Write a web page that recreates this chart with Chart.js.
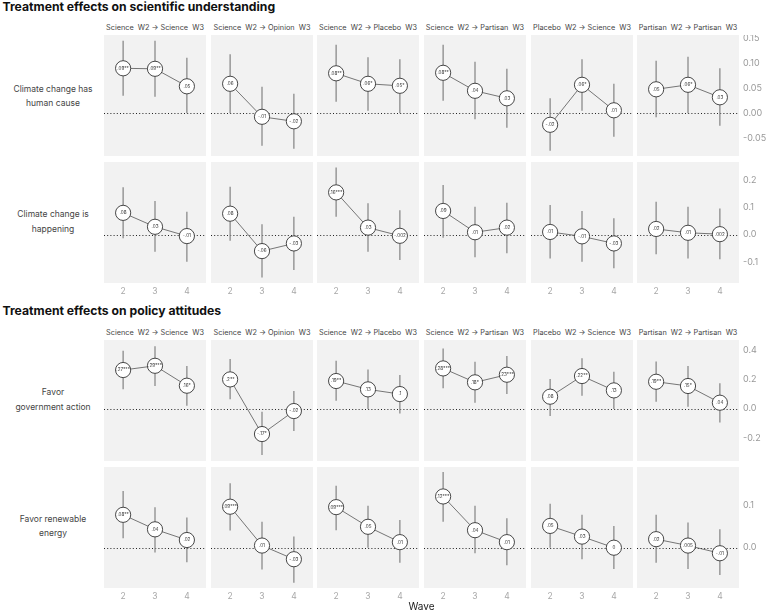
<!DOCTYPE html>
<html>
<head>
<meta charset="utf-8">
<script src="https://cdn.jsdelivr.net/npm/chart.js@4/dist/chart.umd.min.js"></script>
<style>
  html, body { margin: 0; padding: 0; background: #fff; }
  body { width: 766px; height: 612px; position: relative; overflow: hidden; font-family: Inter, "DejaVu Sans", sans-serif; }
  canvas { position: absolute; }
  .t { position: absolute; white-space: pre; line-height: 1; }
</style>
</head>
<body>
<script>
// ---------- data ----------
const sectionTitles = ["Treatment effects on scientific understanding", "Treatment effects on policy attitudes"];
const facetTitles = ["Science  W2 \u2192 Science  W3", "Science  W2 \u2192 Opinion  W3", "Science  W2 \u2192 Placebo  W3",
                     "Science  W2 \u2192 Partisan  W3", "Placebo  W2 \u2192 Science  W3", "Partisan  W2 \u2192 Partisan  W3"];
const rowLabels = [["Climate change has", "human cause"], ["Climate change is", "happening"],
                   ["Favor", "government action"], ["Favor renewable", "energy"]];
const waves = [2, 3, 4];
const waveTitle = "Wave";

const yTickValues = [[-0.05, 0, 0.05, 0.10, 0.15], [-0.1, 0, 0.1, 0.2], [-0.2, 0, 0.2, 0.4], [0, 0.1]];
const yTickLabels = [["-0.05", "0.00", "0.05", "0.10", "0.15"], ["-0.1", "0.0", "0.1", "0.2"],
                     ["-0.2", "0.0", "0.2", "0.4"], ["0.0", "0.1"]];
const yRange = [[-0.0854, 0.1566], [-0.1769, 0.2663], [-0.357, 0.469], [-0.0944, 0.189]];

// Climate change has human cause
const estHuman = [[0.090, 0.089, 0.054], [0.059, -0.007, -0.016], [0.080, 0.059, 0.055],
                  [0.081, 0.045, 0.030], [-0.023, 0.057, 0.006], [0.048, 0.057, 0.032]];
const loHuman  = [[0.035, 0.033, 0.000], [0.000, -0.065, -0.071], [0.023, 0.005, 0.000],
                  [0.025, -0.012, -0.029], [-0.075, 0.005, -0.047], [-0.008, 0.000, -0.025]];
const hiHuman  = [[0.145, 0.145, 0.111], [0.118, 0.053, 0.039], [0.137, 0.112, 0.108],
                  [0.137, 0.103, 0.089], [0.030, 0.108, 0.059], [0.105, 0.113, 0.090]];
const labHuman = [[".09**", ".09**", ".05"], [".06", "-.01", "-.02"], [".08**", ".06*", ".05*"],
                  [".08**", ".04", ".03"], ["-.02", ".06*", ".01"], [".05", ".06*", ".03"]];

// Climate change is happening
const estHappen = [[0.080, 0.029, -0.005], [0.077, -0.060, -0.032], [0.155, 0.026, -0.004],
                   [0.087, 0.009, 0.026], [0.010, -0.006, -0.032], [0.021, 0.007, 0.002]];
const loHappen  = [[-0.013, -0.062, -0.099], [-0.022, -0.157, -0.129], [0.066, -0.062, -0.093],
                   [-0.011, -0.083, -0.068], [-0.087, -0.099, -0.123], [-0.072, -0.087, -0.090]];
const hiHappen  = [[0.174, 0.123, 0.084], [0.176, 0.038, 0.066], [0.246, 0.115, 0.090],
                   [0.182, 0.102, 0.117], [0.109, 0.087, 0.060], [0.121, 0.102, 0.096]];
const labHappen = [[".08", ".03", "-.01"], [".08", "-.06", "-.03"], [".16***", ".03", "-.002"],
                   [".09", ".01", ".02"], [".01", "-.01", "-.03"], [".02", ".01", ".002"]];

// Favor government action
const estGov = [[0.264, 0.293, 0.157], [0.200, -0.173, -0.016], [0.189, 0.132, 0.100],
                [0.275, 0.180, 0.232], [0.082, 0.223, 0.125], [0.184, 0.155, 0.041]];
const loGov  = [[0.132, 0.155, 0.020], [0.064, -0.316, -0.152], [0.055, -0.002, -0.032],
                [0.139, 0.041, 0.100], [-0.050, 0.089, -0.002], [0.048, 0.014, -0.095]];
const hiGov  = [[0.395, 0.427, 0.291], [0.339, -0.020, 0.120], [0.327, 0.268, 0.230],
                [0.411, 0.320, 0.359], [0.202, 0.345, 0.252], [0.323, 0.291, 0.173]];
const labGov = [[".27***", ".29***", ".16*"], [".2**", "-.17*", "-.02"], [".19**", ".13", ".1"],
                [".28***", ".18*", ".23***"], [".08", ".22**", ".13"], [".19**", ".15*", ".04"]];

// Favor renewable energy
const estRen = [[0.077, 0.043, 0.018], [0.096, 0.005, -0.027], [0.095, 0.049, 0.013],
                [0.120, 0.041, 0.013], [0.051, 0.026, 0.000], [0.020, 0.005, -0.013]];
const loRen  = [[0.022, -0.011, -0.034], [0.040, -0.051, -0.082], [0.041, 0.000, -0.035],
                [0.061, -0.013, -0.041], [0.000, -0.027, -0.050], [-0.035, -0.050, -0.064]];
const hiRen  = [[0.133, 0.095, 0.071], [0.151, 0.061, 0.026], [0.145, 0.098, 0.065],
                [0.177, 0.098, 0.069], [0.103, 0.077, 0.051], [0.077, 0.059, 0.043]];
const labRen = [[".08**", ".04", ".02"], [".09***", ".01", "-.03"], [".09***", ".05", ".01"],
                [".12***", ".04", ".01"], [".05", ".03", "0"], [".02", ".005", "-.01"]];

const rows = [
  { est: estHuman, lo: loHuman, hi: hiHuman, lab: labHuman },
  { est: estHappen, lo: loHappen, hi: hiHappen, lab: labHappen },
  { est: estGov, lo: loGov, hi: hiGov, lab: labGov },
  { est: estRen, lo: loRen, hi: hiRen, lab: labRen }
];

// ---------- layout ----------
const FONT = "Inter, 'DejaVu Sans', sans-serif";
Chart.defaults.font.family = FONT;
const panelLefts = [104, 211, 317, 424, 531, 637];
const panelW = 102;
const rowTops = [35, 162, 340, 467];
const panelH = 121;
const yAxisW = 29;
const xAxisH = 14;
const showXRow = [false, true, false, true];

function addText(txt, x, baseline, size, opts = {}) {
  const d = document.createElement('div');
  d.className = 't';
  d.textContent = txt;
  d.style.fontSize = size + 'px';
  d.style.color = opts.color || '#444';
  if (opts.bold) d.style.fontWeight = '700';
  d.style.top = (baseline - 0.864 * size) + 'px';
  d.style.left = x + 'px';
  if (opts.center) d.style.transform = 'translateX(-50%)';
  document.body.appendChild(d);
}

const panelPlugin = {
  id: 'panelPlugin',
  beforeDatasetsDraw(chart) {
    const { ctx, chartArea: a } = chart;
    const y = chart.scales.y;
    ctx.save();
    ctx.fillStyle = '#f2f2f2';
    ctx.fillRect(a.left, a.top, a.right - a.left, a.bottom - a.top);
    const y0 = Math.round(y.getPixelForValue(0)) + 0.5;
    ctx.strokeStyle = '#222';
    ctx.lineWidth = 1;
    ctx.setLineDash([1, 2.2]);
    ctx.beginPath();
    ctx.moveTo(a.left, y0);
    ctx.lineTo(a.right, y0);
    ctx.stroke();
    ctx.restore();
  },
  afterDatasetsDraw(chart) {
    const labels = chart.options.plugins.panelPlugin.labels;
    const meta = chart.getDatasetMeta(0);
    const ctx = chart.ctx;
    ctx.save();
    ctx.fillStyle = '#333';
    ctx.font = '4.6px ' + FONT;
    ctx.textAlign = 'center';
    ctx.textBaseline = 'middle';
    meta.data.forEach((pt, i) => ctx.fillText(labels[i], pt.x, pt.y));
    ctx.restore();
  }
};

function makePanel(r, c) {
  const row = rows[r];
  const showY = c === 5;
  const showX = showXRow[r];
  const cv = document.createElement('canvas');
  const w = panelW + (showY ? yAxisW : 0);
  const h = panelH + (showX ? xAxisH : 0);
  cv.width = w; cv.height = h;
  cv.style.width = w + 'px'; cv.style.height = h + 'px';
  cv.style.left = panelLefts[c] + 'px';
  cv.style.top = rowTops[r] + 'px';
  document.body.appendChild(cv);

  const datasets = [{
    data: waves.map((wv, i) => ({ x: wv, y: row.est[c][i] })),
    borderColor: '#555', borderWidth: 0.8,
    pointRadius: 7.6, pointBackgroundColor: '#fff', pointBorderColor: '#333', pointBorderWidth: 0.9,
    order: 0
  }];
  waves.forEach((wv, i) => {
    datasets.push({
      data: [{ x: wv, y: row.lo[c][i] }, { x: wv, y: row.hi[c][i] }],
      borderColor: '#8a8a8a', borderWidth: 1.3, pointRadius: 0, order: 1
    });
  });

  new Chart(cv, {
    type: 'line',
    data: { datasets },
    options: {
      responsive: false, animation: false, devicePixelRatio: 1,
      layout: { padding: 0, autoPadding: false },
      plugins: { legend: { display: false }, tooltip: { enabled: false }, panelPlugin: { labels: row.lab[c] } },
      scales: {
        x: {
          type: 'linear', min: 1.4, max: 4.6, display: showX,
          afterBuildTicks: s => { s.ticks = waves.map(v => ({ value: v })); },
          afterFit: s => { s.height = showX ? xAxisH : 0; s.paddingLeft = 0; s.paddingRight = 0; },
          ticks: { color: '#a8a8a8', font: { size: 8.5 }, padding: 3, autoSkip: false, maxRotation: 0, callback: v => String(v) },
          grid: { display: false, drawTicks: false }, border: { display: false }
        },
        y: {
          type: 'linear', position: 'right', min: yRange[r][0], max: yRange[r][1], display: showY,
          afterBuildTicks: s => { s.ticks = yTickValues[r].map(v => ({ value: v })); },
          afterFit: s => { s.width = showY ? yAxisW : 0; s.paddingTop = 0; s.paddingBottom = 0; },
          ticks: { color: '#999', font: { size: 9 }, padding: 4, autoSkip: false,
                   callback: v => yTickLabels[r][yTickValues[r].indexOf(v)] },
          grid: { display: false, drawTicks: false }, border: { display: false }
        }
      }
    },
    plugins: [panelPlugin]
  });
}

for (let r = 0; r < 4; r++) for (let c = 0; c < 6; c++) makePanel(r, c);

// ---------- text ----------
addText(sectionTitles[0], 2.5, 11.7, 12.2, { bold: true, color: '#111' });
addText(sectionTitles[1], 2.5, 315.7, 12.2, { bold: true, color: '#111' });
facetTitles.forEach((t, c) => {
  addText(t, panelLefts[c] + panelW / 2, 30, 7.3, { center: true, color: '#444' });
  addText(t, panelLefts[c] + panelW / 2, 335, 7.3, { center: true, color: '#444' });
});
const rowLabelBaselines = [[92.2, 106.5], [217.8, 232.2], [395.5, 410.8], [522, 536.6]];
rowLabels.forEach((lines, r) => {
  lines.forEach((ln, k) => addText(ln, 53, rowLabelBaselines[r][k], 8.5, { center: true, color: '#444' }));
});
addText(waveTitle, 421.5, 610, 10, { center: true, color: '#222' });
</script>
</body>
</html>
